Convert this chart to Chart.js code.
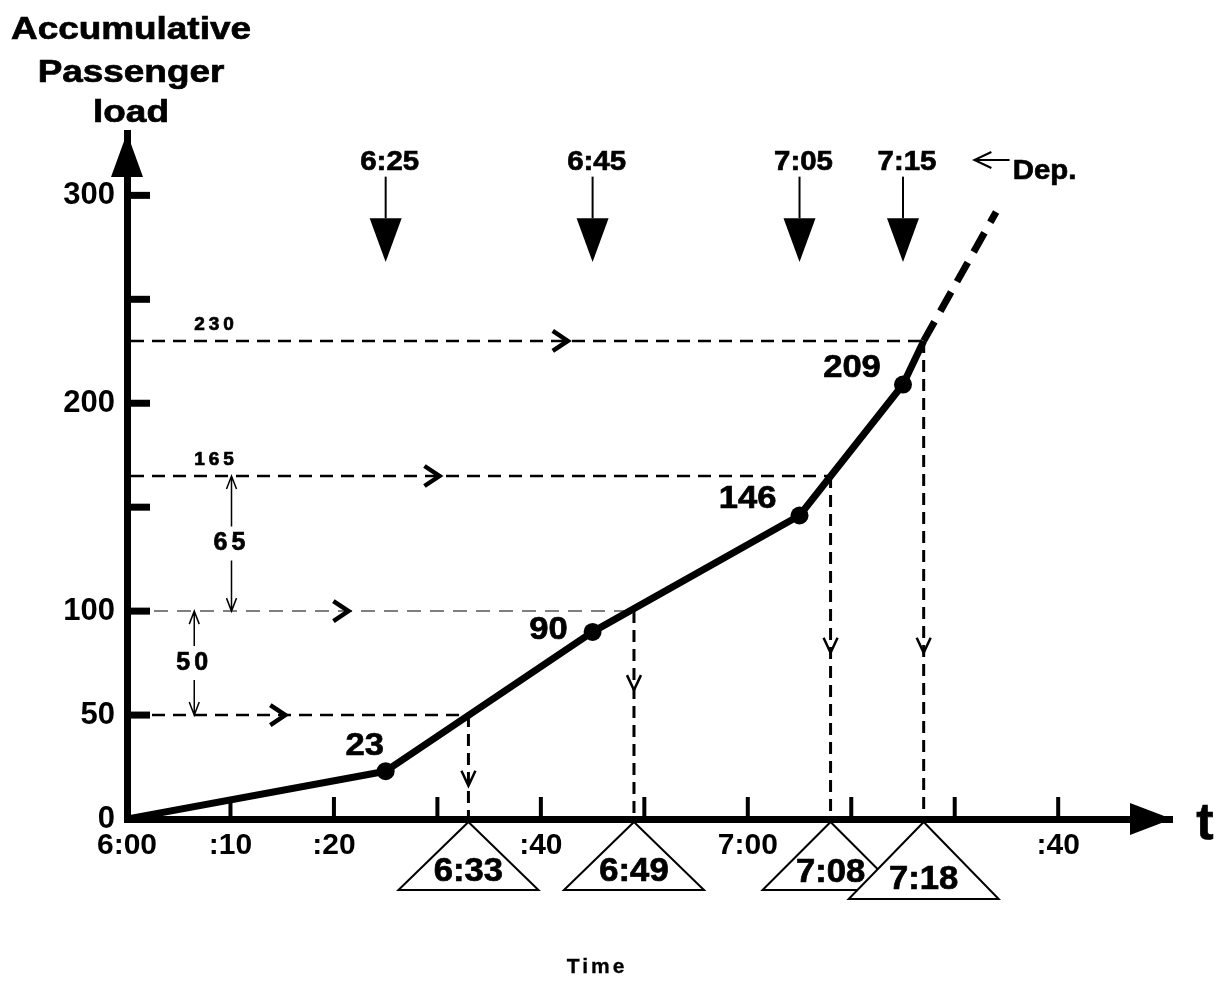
<!DOCTYPE html>
<html>
<head>
<meta charset="utf-8">
<script src="https://cdn.jsdelivr.net/npm/chart.js@4.4.0/dist/chart.umd.min.js"></script>
<style>
  body { margin: 0; background: #fff; }
  #wrap { width: 1224px; height: 983px; }
</style>
</head>
<body>
<div id="wrap"><canvas id="myChart" width="1224" height="983"></canvas></div>
<script>
// all times are minutes after 6:00
const lineMin = [0, 25, 45, 65, 75, 77];
const lineLoad = [0, 23, 90, 146, 209, 230];
const extMin = [77, 84];
const extLoad = [230, 292];

const depMin = [25, 45, 65, 75];
const depLabels = ['6:25', '6:45', '7:05', '7:15'];
const depLoads = ['23', '90', '146', '209'];

const levels = [50, 100, 165, 230];
const crossMin = [33, 49, 68, 77];
const crossLabels = ['6:33', '6:49', '7:08', '7:18'];

const xTicks = [0, 10, 20, 30, 40, 50, 60, 70, 80, 90];
const xTickLabels = ['6:00', ':10', ':20', '', ':40', '', '7:00', '', '', ':40'];
const yTicks = [0, 50, 100, 150, 200, 250, 300];
const yTickLabels = ['0', '50', '100', '', '200', '', '300'];

// where the little markers sit (data units)
const hArrowAt = [15.3, 21.4, 30.2, 42.6];   // minute of the ">" on each level line
const vArrowAt = [16, 62, 80, 80];           // load of the "v" on each drop line
const gapAt = [6.5, 10.1];                   // minute of the 50 / 65 double arrows
const levelTextAt = 8.6;                     // minute of the "165" / "230" texts
const loadOffsets = [[-21, -25], [-44, -2], [-52, -16], [-51, -16]]; // px from dot
const topArrow = { text: 316, top: 309, head: 289, tip: 268 };
const depNote = { y: 317, tip: 81.9, tail: 85.3, text: 85.6 };

const FONT = '"Liberation Sans", Arial, Helvetica, sans-serif';

function label(ctx, str, x, y, size, opt) {
  opt = opt || {};
  ctx.save();
  ctx.font = 'bold ' + size + 'px ' + FONT;
  ctx.fillStyle = '#000';
  ctx.strokeStyle = '#000';
  ctx.lineWidth = opt.heavy === undefined ? 0.7 : opt.heavy;
  ctx.textAlign = opt.align || 'center';
  ctx.textBaseline = opt.base || 'middle';
  if (opt.spacing) ctx.letterSpacing = opt.spacing + 'px';
  ctx.translate(x, y);
  ctx.scale(opt.sx || 1.1, 1);
  ctx.fillText(str, 0, 0);
  if (ctx.lineWidth > 0.1) ctx.strokeText(str, 0, 0);
  ctx.restore();
}

function chevron(ctx, x, y, dx, dy, w) {
  ctx.save();
  ctx.lineWidth = w;
  ctx.strokeStyle = '#000';
  ctx.beginPath();
  if (dx) { ctx.moveTo(x - dx, y - dy); ctx.lineTo(x, y); ctx.lineTo(x - dx, y + dy); }
  else { ctx.moveTo(x - dy, y - 15); ctx.lineTo(x, y); ctx.lineTo(x + dy, y - 15); }
  ctx.stroke();
  ctx.restore();
}

const guides = {
  id: 'guides',
  beforeDatasetsDraw(chart) {
    const ctx = chart.ctx, xs = chart.scales.x, ys = chart.scales.y, area = chart.chartArea;
    ctx.save();
    levels.forEach((lv, i) => {
      const yy = ys.getPixelForValue(lv), xx = xs.getPixelForValue(crossMin[i]);
      ctx.beginPath();
      if (lv === 100) { ctx.strokeStyle = '#555'; ctx.lineWidth = 1.5; ctx.setLineDash([14, 9]); }
      else { ctx.strokeStyle = '#000'; ctx.lineWidth = 2.5; ctx.setLineDash([13, 8]); }
      ctx.moveTo(area.left + 4, yy);
      ctx.lineTo(xx, yy);
      ctx.stroke();
      ctx.beginPath();
      ctx.strokeStyle = '#000';
      ctx.lineWidth = 3;
      ctx.setLineDash([12, 7]);
      ctx.moveTo(xx, yy);
      ctx.lineTo(xx, area.bottom);
      ctx.stroke();
    });
    ctx.restore();
  },
  afterDatasetsDraw(chart) {
    const ctx = chart.ctx, xs = chart.scales.x, ys = chart.scales.y, area = chart.chartArea;
    const px = v => xs.getPixelForValue(v), py = v => ys.getPixelForValue(v);
    ctx.save();
    ctx.fillStyle = '#000';

    // axis tick bars and arrow heads
    yTicks.slice(1).forEach(v => ctx.fillRect(area.left, py(v) - 3.5, 23, 7));
    xTicks.slice(1).forEach(v => ctx.fillRect(px(v) - 2, area.bottom - 22, 4, 22));
    ctx.beginPath();
    ctx.moveTo(area.left, area.top);
    ctx.lineTo(area.left - 16, area.top + 44);
    ctx.lineTo(area.left + 16, area.top + 44);
    ctx.closePath();
    ctx.fill();
    ctx.beginPath();
    ctx.moveTo(area.right, area.bottom);
    ctx.lineTo(area.right - 42, area.bottom - 16);
    ctx.lineTo(area.right - 42, area.bottom + 16);
    ctx.closePath();
    ctx.fill();

    // arrows along the level lines and drop lines
    levels.forEach((lv, i) => {
      chevron(ctx, px(hArrowAt[i]), py(lv), 15, 10, 4.5);
      chevron(ctx, px(crossMin[i]), py(vArrowAt[i]), 0, 7, 2.5);
    });

    // level texts
    label(ctx, String(levels[2]), px(levelTextAt), py(levels[2]) - 16, 19, { spacing: 4, sx: 1 });
    label(ctx, String(levels[3]), px(levelTextAt), py(levels[3]) - 16, 19, { spacing: 4, sx: 1 });

    // double arrows for the differences
    gapAt.forEach((m, i) => {
      const x = px(m), y1 = py(levels[i + 1]), y2 = py(levels[i]), mid = (y1 + y2) / 2;
      ctx.save();
      ctx.lineWidth = 1.5;
      ctx.strokeStyle = '#000';
      ctx.beginPath();
      ctx.moveTo(x, y1); ctx.lineTo(x, mid - 17);
      ctx.moveTo(x, mid + 17); ctx.lineTo(x, y2);
      ctx.moveTo(x - 5, y1 + 13); ctx.lineTo(x, y1); ctx.lineTo(x + 5, y1 + 13);
      ctx.moveTo(x - 5, y2 - 13); ctx.lineTo(x, y2); ctx.lineTo(x + 5, y2 - 13);
      ctx.stroke();
      ctx.restore();
      label(ctx, String(levels[i + 1] - levels[i]), x, mid, 25, { spacing: 4, sx: 1 });
    });

    // departure arrows at the top
    depMin.forEach((m, i) => {
      const x = px(m);
      label(ctx, depLabels[i], x + 4, py(topArrow.text), 28, { sx: 1.05 });
      ctx.save();
      ctx.lineWidth = 2;
      ctx.strokeStyle = '#000';
      ctx.beginPath();
      ctx.moveTo(x, py(topArrow.top));
      ctx.lineTo(x, py(topArrow.head));
      ctx.stroke();
      ctx.beginPath();
      ctx.moveTo(x - 16, py(topArrow.head));
      ctx.lineTo(x + 16, py(topArrow.head));
      ctx.lineTo(x, py(topArrow.tip));
      ctx.closePath();
      ctx.fill();
      ctx.restore();
    });

    // "<- Dep."
    ctx.save();
    ctx.lineWidth = 2;
    ctx.strokeStyle = '#000';
    const dy = py(depNote.y), dx = px(depNote.tip);
    ctx.beginPath();
    ctx.moveTo(px(depNote.tail), dy); ctx.lineTo(dx, dy);
    ctx.moveTo(dx + 17, dy - 8); ctx.lineTo(dx, dy); ctx.lineTo(dx + 17, dy + 8);
    ctx.stroke();
    ctx.restore();
    label(ctx, 'Dep.', px(depNote.text), dy + 11, 28, { align: 'left', sx: 1.05 });

    // load values next to the dots
    depMin.forEach((m, i) => {
      const lv = lineLoad[lineMin.indexOf(m)];
      label(ctx, depLoads[i], px(m) + loadOffsets[i][0], py(lv) + loadOffsets[i][1], 32, { sx: 1.08 });
    });

    // arrival triangles under the axis
    const triH = [68, 68, 68, 77], triW = [70, 70, 68, 75], txtDy = [50, 50, 51, 58];
    crossMin.forEach((m, i) => {
      const x = px(m), top = area.bottom + 3;
      ctx.save();
      ctx.beginPath();
      ctx.moveTo(x, top);
      ctx.lineTo(x + triW[i], top + triH[i]);
      ctx.lineTo(x - triW[i], top + triH[i]);
      ctx.closePath();
      ctx.fillStyle = '#fff';
      ctx.fill();
      ctx.lineWidth = 2;
      ctx.strokeStyle = '#000';
      ctx.stroke();
      ctx.restore();
      label(ctx, crossLabels[i], x, top + txtDy[i], 33, { sx: 1.05 });
    });

    // titles
    const tx = 131;
    ['Accumulative', 'Passenger', 'load'].forEach((s, i) => {
      label(ctx, s, tx, [39, 82, 122][i], 31, { base: 'alphabetic', sx: 1.19 });
    });
    label(ctx, 't', area.right + 33, area.bottom + 20, 52, { base: 'alphabetic', sx: 1 });
    label(ctx, 'Time', 597, 967, 21, { spacing: 3, sx: 1, heavy: 0.3 });
    ctx.restore();
  }
};

const ctx = document.getElementById('myChart');

new Chart(ctx, {
  type: 'line',
  data: {
    datasets: [{
      data: lineMin.map((m, i) => ({ x: m, y: lineLoad[i] })),
      borderColor: '#000',
      borderWidth: 7,
      borderJoinStyle: 'round',
      pointRadius: lineMin.map((m, i) => (depMin.includes(m) ? 9 : 0)),
      pointBackgroundColor: '#000',
      pointBorderWidth: 0,
      tension: 0
    }, {
      data: extMin.map((m, i) => ({ x: m, y: extLoad[i] })),
      borderColor: '#000',
      borderWidth: 7,
      borderDash: [22, 12],
      pointRadius: 0,
      tension: 0
    }]
  },
  options: {
    responsive: false,
    animation: false,
    layout: { padding: { top: 133, right: 52, left: 0, bottom: 0 } },
    plugins: { legend: { display: false }, tooltip: { enabled: false } },
    scales: {
      x: {
        type: 'linear',
        min: 0,
        max: 101,
        afterBuildTicks: s => { s.ticks = xTicks.map(v => ({ value: v })); },
        afterFit: s => { s.height = 164; },
        grid: { display: false, drawTicks: false },
        border: { display: true, width: 7, color: '#000' },
        ticks: {
          callback: v => xTickLabels[xTicks.indexOf(v)],
          font: { family: FONT, size: 30, weight: 'bold' },
          color: '#000',
          padding: 9,
          maxRotation: 0,
          autoSkip: false
        }
      },
      y: {
        min: 0,
        max: 330,
        afterBuildTicks: s => { s.ticks = yTicks.map(v => ({ value: v })); },
        afterFit: s => { s.width = 127; },
        grid: { display: false, drawTicks: false },
        border: { display: true, width: 7, color: '#000' },
        ticks: {
          callback: v => yTickLabels[yTicks.indexOf(v)],
          font: { family: FONT, size: 31, weight: 'bold' },
          color: '#000',
          padding: 12,
          autoSkip: false
        }
      }
    }
  },
  plugins: [guides]
});
</script>
</body>
</html>
